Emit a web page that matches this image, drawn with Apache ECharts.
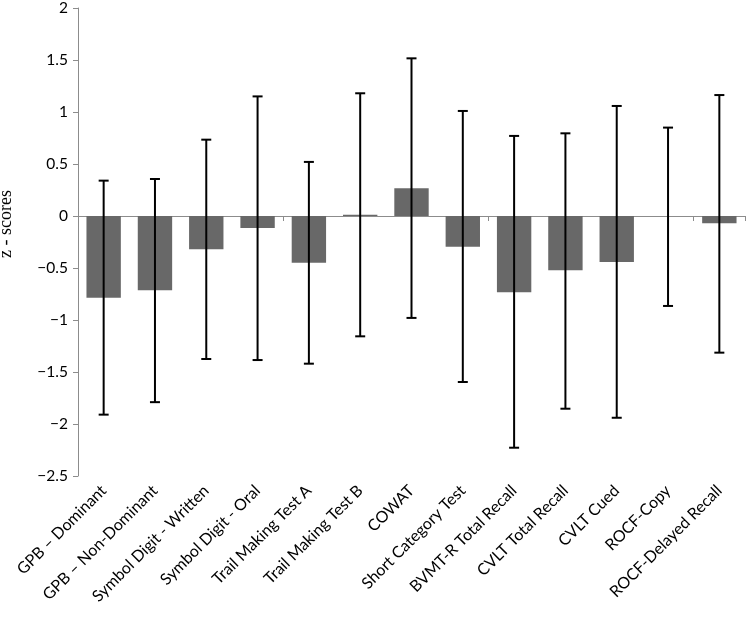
<!DOCTYPE html>
<html><head><meta charset="utf-8">
<script src="https://cdn.jsdelivr.net/npm/echarts@6/dist/echarts.min.js"></script>
<style>html,body{margin:0;padding:0;background:#fff}#c{width:750px;height:620px}</style>
</head><body><div id="c"></div>
<script>
var categories = ["GPB \u2013 Dominant","GPB \u2013 Non-Dominant","Symbol Digit - Written","Symbol Digit - Oral","Trail Making Test A","Trail Making Test B","COWAT","Short Category Test","BVMT-R Total Recall","CVLT Total Recall","CVLT Cued","ROCF-Copy","ROCF-Delayed Recall"];
var means = [-0.785,-0.715,-0.32,-0.115,-0.45,0.012,0.266,-0.295,-0.734,-0.522,-0.442,0,-0.07];
var errLow = [-1.91,-1.79,-1.375,-1.385,-1.42,-1.157,-0.98,-1.596,-2.228,-1.853,-1.94,-0.865,-1.314];
var errHigh = [0.34,0.356,0.734,1.15,0.52,1.18,1.516,1.01,0.77,0.795,1.058,0.85,1.163];
var yTicks = {min:-2.5, max:2, interval:0.5};

var chart = echarts.init(document.getElementById('c'));
var errData = categories.map(function(c,i){return [i, errLow[i], errHigh[i]];});
chart.setOption({
  animation:false,
  grid:{left:78,right:5,top:8,bottom:144,containLabel:false},
  xAxis:[{
    type:'category', data:categories, position:'bottom',
    axisLine:{onZero:true,lineStyle:{color:'#8c8c8c',width:1}},
    axisTick:{show:true,length:5,lineStyle:{color:'#8c8c8c'}},
    axisLabel:{show:false}
  },{
    type:'category', data:categories, position:'bottom',
    axisLine:{show:false,onZero:false}, axisTick:{show:false},
    axisLabel:{rotate:45,margin:12,fontFamily:'Lato',fontSize:16,color:'#000',interval:0}
  }],
  yAxis:{
    type:'value', min:yTicks.min, max:yTicks.max, interval:yTicks.interval,
    splitLine:{show:false},
    axisLine:{show:true,lineStyle:{color:'#8c8c8c'}},
    axisTick:{show:true,length:5,lineStyle:{color:'#8c8c8c'}},
    axisLabel:{fontFamily:'Lato',fontSize:15.5,color:'#000',margin:10,
      formatter:function(v){return String(v).replace('-','\u2212');}}
  },
  graphic:[{type:'text',x:6,y:224,rotation:Math.PI/2,
    style:{text:'z - scores',fontFamily:'Liberation Serif',fontSize:18,fill:'#000',align:'center',verticalAlign:'middle'}}],
  series:[{
    type:'bar', data:means, barCategoryGap:'33%',
    itemStyle:{color:'#686868'}
  },{
    type:'custom', data:errData, z:10,
    renderItem:function(params,api){
      var x=api.value(0);
      var lo=api.coord([x,api.value(1)]);
      var hi=api.coord([x,api.value(2)]);
      var w=5;
      var st={stroke:'#000',lineWidth:2};
      return {type:'group',children:[
        {type:'line',shape:{x1:hi[0],y1:hi[1],x2:lo[0],y2:lo[1]},style:st},
        {type:'line',shape:{x1:hi[0]-w,y1:hi[1],x2:hi[0]+w,y2:hi[1]},style:st},
        {type:'line',shape:{x1:lo[0]-w,y1:lo[1],x2:lo[0]+w,y2:lo[1]},style:st}
      ]};
    }
  }]
});
</script></body></html>
